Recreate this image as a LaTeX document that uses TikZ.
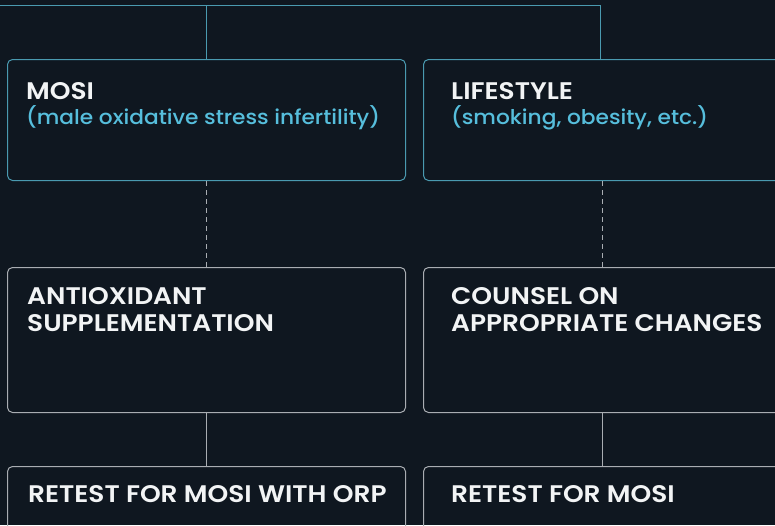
\documentclass[tikz,border=0pt]{standalone}
\usepackage{fontspec}
\setmainfont{Poppins}
\newfontfamily\titlefont{Poppins SemiBold}[FakeStretch=1.1]
\newfontfamily\subfont{Poppins Medium}[FakeStretch=1.07]
\definecolor{bg}{HTML}{0F1720}
\definecolor{teal}{HTML}{4A9AB0}
\definecolor{edgegray}{HTML}{A9ADB2}
\definecolor{subcyan}{HTML}{56BEDC}
\definecolor{titlewhite}{HTML}{F2F4F5}
\tikzset{
  boxtop/.style={draw=teal, line width=1pt, rounded corners=5pt, minimum width=398pt, minimum height=121pt, anchor=north west, inner sep=0pt},
  boxmid/.style={draw=edgegray, line width=1pt, rounded corners=5pt, minimum width=398pt, minimum height=145pt, anchor=north west, inner sep=0pt},
  boxbot/.style={draw=edgegray, line width=1pt, rounded corners=5pt, minimum width=398pt, minimum height=90pt, anchor=north west, inner sep=0pt},
  ttl/.style={anchor=base west, inner sep=0pt, text=titlewhite, font=\titlefont\fontsize{24}{27}\selectfont, align=left},
  subttl/.style={anchor=base west, inner sep=0pt, text=subcyan, font=\subfont\fontsize{20.3}{24}\selectfont},
  conntop/.style={draw=teal, line width=1pt},
  conndash/.style={draw=edgegray, line width=1pt, dash pattern=on 5pt off 4pt},
  connsolid/.style={draw=edgegray, line width=1pt}
}
\begin{document}
\begin{tikzpicture}[x=1pt, y=-1pt]
\useasboundingbox (0,0) rectangle (775,525);
\fill[bg] (0,0) rectangle (775,525);
\clip (0,0) rectangle (775,525);
% boxes
\node[boxtop] (mosi) at (7,59) {};
\node[boxtop] (life) at (423,59) {};
\node[boxmid] (anti) at (7,267) {};
\node[boxmid] (couns) at (423,267) {};
\node[boxbot] (retl) at (7,466) {};
\node[boxbot] (retr) at (423,466) {};
% texts
\node[ttl] (tmosi) at (26,99) {MOSI};
\node[subttl] (smosi) at (26,124) {(male oxidative stress infertility)};
\node[ttl] (tlife) at (451,99) {LIFESTYLE};
\node[subttl] (slife) at (451,124) {(smoking, obesity, etc.)};
\node[ttl, anchor=north west] (tanti) at (27,287) {ANTIOXIDANT\\SUPPLEMENTATION};
\node[ttl, anchor=north west] (tcouns) at (451,287) {COUNSEL ON\\APPROPRIATE CHANGES};
\node[ttl] (tretl) at (28,502) {RETEST FOR MOSI WITH ORP};
\node[ttl] (tretr) at (451,502) {RETEST FOR MOSI};
% connectors
\coordinate (topL) at (-5,5);
\coordinate (topA) at (206,5);
\coordinate (topB) at (600,5);
\coordinate (xl) at (206,0);
\coordinate (xr) at (602,0);
\draw[conntop] (topL) -- (topB) -- (topB |- life.north);
\draw[conntop] (topA) -- (topA |- mosi.north);
\draw[conndash] (xl |- mosi.south) -- (xl |- anti.north);
\draw[conndash] (xr |- life.south) -- (xr |- couns.north);
\draw[connsolid] (xl |- anti.south) -- (xl |- retl.north);
\draw[connsolid] (xr |- couns.south) -- (xr |- retr.north);
\end{tikzpicture}
\end{document}
